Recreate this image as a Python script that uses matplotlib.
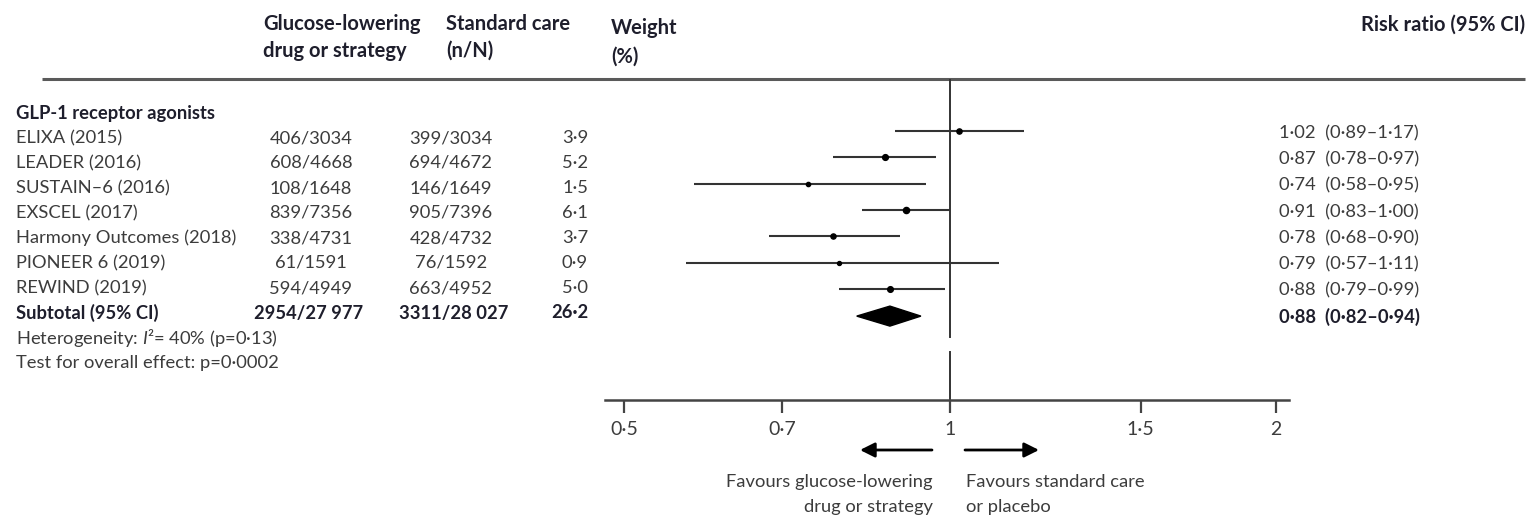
import matplotlib
matplotlib.use('Agg')
import matplotlib.pyplot as plt
from matplotlib.ticker import FixedLocator, FixedFormatter, NullLocator
from matplotlib.patches import Polygon

plt.rcParams['font.family'] = ['Lato', 'DejaVu Sans']
plt.rcParams['mathtext.fontset'] = 'custom'
plt.rcParams['mathtext.rm'] = 'Lato'
plt.rcParams['mathtext.it'] = 'Lato:italic'

# data
trials = ['ELIXA (2015)', 'LEADER (2016)', 'SUSTAIN–6 (2016)', 'EXSCEL (2017)',
          'Harmony Outcomes (2018)', 'PIONEER 6 (2019)', 'REWIND (2019)']
drug_n = [406, 608, 108, 839, 338, 61, 594]
drug_N = [3034, 4668, 1648, 7356, 4731, 1591, 4949]
std_n = [399, 694, 146, 905, 428, 76, 663]
std_N = [3034, 4672, 1649, 7396, 4732, 1592, 4952]
weights = [3.9, 5.2, 1.5, 6.1, 3.7, 0.9, 5.0]
rr = [1.02, 0.87, 0.74, 0.91, 0.78, 0.79, 0.88]
rr_lo = [0.89, 0.78, 0.58, 0.83, 0.68, 0.57, 0.79]
rr_hi = [1.17, 0.97, 0.95, 1.00, 0.90, 1.11, 0.99]

sub_drug = (2954, 27977)
sub_std = (3311, 28027)
sub_weight = 26.2
sub_rr, sub_lo, sub_hi = 0.88, 0.82, 0.94

tick_vals = [0.5, 0.7, 1, 1.5, 2]


def dot(v, nd=2):
    return f'{v:.{nd}f}'.replace('.', '·')


def thou(v):
    return f'{v:,}'.replace(',', ' ')


W, H = 1531, 519
fig = plt.figure(figsize=(W / 100, H / 100), dpi=100)

# background axes in pixel coordinates for the table text
bg = fig.add_axes([0, 0, 1, 1])
bg.set_xlim(0, W)
bg.set_ylim(H, 0)
bg.axis('off')

head_c = '#1e1e2c'
txt_c = '#3c3c3c'
fs = 13.2
hfs = 14.5

# header
hs = dict(fontsize=hfs, fontweight='bold', color=head_c, va='center')
bg.text(263, 24, 'Glucose-lowering', ha='left', **hs)
bg.text(263, 51, 'drug or strategy', ha='left', **hs)
bg.text(446, 24, 'Standard care', ha='left', **hs)
bg.text(446, 51, '(n/N)', ha='left', **hs)
bg.text(611, 28, 'Weight', ha='left', **hs)
bg.text(611, 57, '(%)', ha='left', **hs)
bg.text(1525, 25, 'Risk ratio (95% CI)', ha='right', **hs)
bg.plot([42, 1525], [79, 79], color='#5a5a5a', lw=2.2, solid_capstyle='butt')

# left table
ty0, tstep = 138, 25
bs = dict(va='center', fontsize=fs, fontweight='bold', color=head_c)
bg.text(16, 113, 'GLP-1 receptor agonists', ha='left', **bs)
for i, name in enumerate(trials):
    y = ty0 + tstep * i
    bg.text(16, y, name, ha='left', va='center', fontsize=fs, color=txt_c)
    bg.text(311, y, f'{drug_n[i]}/{drug_N[i]}', ha='center', va='center', fontsize=fs, color=txt_c)
    bg.text(451, y, f'{std_n[i]}/{std_N[i]}', ha='center', va='center', fontsize=fs, color=txt_c)
    bg.text(588, y, dot(weights[i], 1), ha='right', va='center', fontsize=fs, color=txt_c)

ys = ty0 + tstep * len(trials)
bg.text(16, ys, 'Subtotal (95% CI)', ha='left', **bs)
bg.text(309, ys, f'{sub_drug[0]}/{thou(sub_drug[1])}', ha='center', **bs)
bg.text(454, ys, f'{sub_std[0]}/{thou(sub_std[1])}', ha='center', **bs)
bg.text(588, ys, dot(sub_weight, 1), ha='right', **bs)
bg.text(16, ys + 25, 'Heterogeneity: $I$²= 40% (p=0·13)', ha='left', va='center',
        fontsize=fs, color=txt_c)
bg.text(16, ys + 50, 'Test for overall effect: p=0·0002', ha='left', va='center',
        fontsize=fs, color=txt_c)

# right column with risk ratios
ry0, rstep = 133, 26.3
for i in range(len(trials)):
    bg.text(1279, ry0 + rstep * i, f'{dot(rr[i])}  ({dot(rr_lo[i])}–{dot(rr_hi[i])})',
            ha='left', va='center', fontsize=fs, color=txt_c)
bg.text(1279, ry0 + rstep * len(trials), f'{dot(sub_rr)}  ({dot(sub_lo)}–{dot(sub_hi)})',
        ha='left', **bs)

# forest axes
ax = fig.add_axes([605 / W, 1 - 400 / H, (1289 - 605) / W, (400 - 80) / H])
ax.patch.set_alpha(0)
ax.set_xscale('log')
ax.set_xlim(0.48, 2.057)
ax.set_ylim(400, 80)
for s in ['top', 'left', 'right']:
    ax.spines[s].set_visible(False)
ax.spines['bottom'].set_color('#444444')
ax.spines['bottom'].set_linewidth(1.8)
ax.yaxis.set_visible(False)
ax.xaxis.set_major_locator(FixedLocator(tick_vals))
ax.xaxis.set_major_formatter(FixedFormatter([dot(v, 1) if v % 1 else str(int(v)) for v in tick_vals]))
ax.xaxis.set_minor_locator(NullLocator())
ax.tick_params(axis='x', direction='out', length=9, width=1.6, color='#444444',
               labelsize=14, labelcolor=txt_c, pad=6)

line_c = '#333333'
ax.plot([1, 1], [80, 337], color=line_c, lw=1.4, clip_on=False)
ax.plot([1, 1], [352, 400], color=line_c, lw=1.4, clip_on=False)

for i in range(len(trials)):
    y = ry0 - 2 + rstep * i
    ax.plot([rr_lo[i], rr_hi[i]], [y, y], color=line_c, lw=1.5, solid_capstyle='butt')
    ax.plot(rr[i], y, 'o', color='black', ms=2.6 + 0.3 * weights[i], mec='black')

yd = ry0 - 1 + rstep * len(trials)
ax.add_patch(Polygon([(sub_lo, yd), (sub_rr, yd - 10), (sub_hi, yd), (sub_rr, yd + 10)],
                     closed=True, facecolor='black', edgecolor='black'))

# favours arrows and captions
ap = dict(arrowstyle='-|>', color='black', lw=2, mutation_scale=22, shrinkA=0, shrinkB=0)
bg.annotate('', xy=(860, 450), xytext=(932, 450), arrowprops=ap)
bg.annotate('', xy=(1039, 450), xytext=(965, 450), arrowprops=ap)
bg.text(933, 482, 'Favours glucose-lowering', ha='right', va='center', fontsize=fs, color=txt_c)
bg.text(933, 507, 'drug or strategy', ha='right', va='center', fontsize=fs, color=txt_c)
bg.text(966, 482, 'Favours standard care', ha='left', va='center', fontsize=fs, color=txt_c)
bg.text(966, 507, 'or placebo', ha='left', va='center', fontsize=fs, color=txt_c)

fig.savefig('out.png', dpi=100)
